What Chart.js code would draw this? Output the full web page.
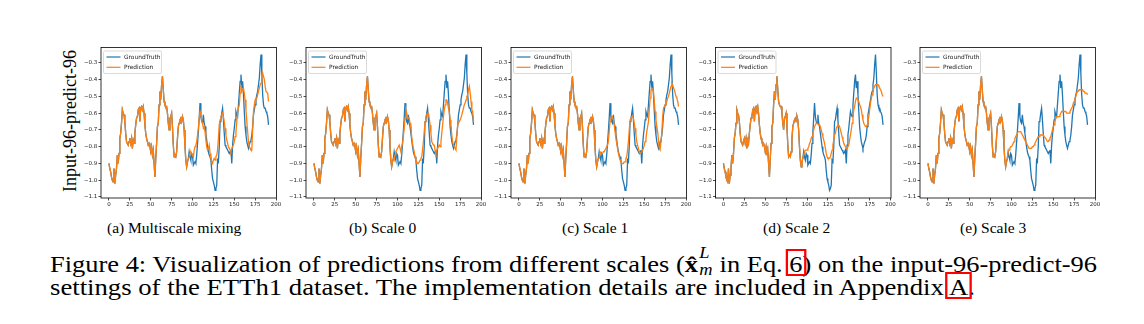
<!DOCTYPE html>
<html>
<head>
<meta charset="utf-8">
<script src="https://cdn.jsdelivr.net/npm/chart.js@4.4.1/dist/chart.umd.min.js"></script>
<style>
  html, body { margin: 0; padding: 0; background: #fff; }
  body { width: 1144px; height: 324px; overflow: hidden; position: relative; font-family: "Liberation Serif", "Times New Roman", serif; color: #000; }
  canvas.panel { position: absolute; }
  .sub { position: absolute; top: 220px; font-size: 15.5px; line-height: 1; white-space: nowrap; }
  .ylab { position: absolute; left: 70px; top: 121px; font-size: 18px; line-height: 1; white-space: nowrap; transform: translate(-50%, -50%) rotate(-90deg); }
  .cap { position: absolute; left: 50px; font-size: 23px; line-height: 1; white-space: nowrap; transform-origin: 0 0; }
  .box { position: relative; }
  .box::after { content: ""; position: absolute; left: -3px; right: -3px; top: -3px; bottom: 1px; border: 2px solid #f00; }
  .ss { display: inline-block; position: relative; width: 13px; height: 23px; }
  .ss i { position: absolute; left: 1px; font-size: 16px; line-height: 1; }
  .ss .sp { top: -4px; }
  .ss .sb { top: 13px; }
</style>
</head>
<body>
<div class="ylab">Input-96-predict-96</div>
<div id="panels"></div>
<div class="cap" id="cap1" style="top:249px">Figure 4: Visualization of predictions from different scales (<b>x&#770;</b><span class="ss"><i class="sp">L</i><i class="sb">m</i></span> in Eq. <span class="box">6</span>) on the input-96-predict-96</div>
<div class="cap" id="cap2" style="top:276px">settings of the ETTh1 dataset. The implementation details are included in Appendix <span class="box">A</span>.</div>

<script>
// Input window shared by all panels (steps 0-95)
const inputWindow = [
  -0.90,-0.93,-0.95,-0.98,-1.00,-1.01,-0.93,-1.02,-0.97,-0.93,
  -0.85,-0.90,-0.84,-0.75,-0.72,-0.66,-0.58,-0.60,-0.61,-0.65,
  -0.72,-0.77,-0.78,-0.79,-0.77,-0.75,-0.78,-0.75,-0.81,-0.76,
  -0.78,-0.72,-0.67,-0.63,-0.62,-0.58,-0.57,-0.65,-0.57,-0.56,
  -0.58,-0.56,-0.60,-0.67,-0.72,-0.75,-0.77,-0.79,-0.78,-0.80,
  -0.83,-0.80,-0.85,-0.82,-0.90,-0.98,-0.87,-0.78,-0.68,-0.66,
  -0.55,-0.47,-0.52,-0.43,-0.38,-0.46,-0.53,-0.55,-0.56,-0.56,
  -0.60,-0.66,-0.70,-0.63,-0.62,-0.60,-0.68,-0.79,-0.86,-0.85,
  -0.86,-0.83,-0.75,-0.68,-0.66,-0.64,-0.63,-0.65,-0.62,-0.64,
  -0.70,-0.80,-0.88,-0.92,-0.89,-0.87
];

// Ground truth over the forecast horizon (steps 96-191)
const groundTruth = [
  -0.83,-0.86,-0.88,-0.84,-0.85,-0.91,-0.90,-0.89,-0.90,-0.85,
  -0.78,-0.71,-0.63,-0.54,-0.62,-0.65,-0.66,-0.61,-0.66,-0.68,
  -0.72,-0.76,-0.80,-0.83,-0.85,-0.86,-0.88,-0.94,-0.99,-1.01,
  -1.03,-1.06,-1.05,-1.03,-0.88,-0.89,-0.80,-0.65,-0.64,-0.60,
  -0.57,-0.64,-0.72,-0.79,-0.80,-0.81,-0.82,-0.83,-0.84,-0.83,
  -0.82,-0.90,-0.79,-0.73,-0.69,-0.64,-0.59,-0.61,-0.62,-0.55,
  -0.48,-0.41,-0.37,-0.45,-0.41,-0.49,-0.59,-0.68,-0.73,-0.77,
  -0.79,-0.81,-0.79,-0.77,-0.76,-0.73,-0.68,-0.61,-0.58,-0.55,
  -0.52,-0.49,-0.47,-0.43,-0.39,-0.31,-0.25,-0.36,-0.49,-0.55,
  -0.57,-0.57,-0.59,-0.60,-0.62,-0.67
];

// Forecasts (steps 96-191) for each variant
const predMultiscale = [
  -0.86,-0.84,-0.83,-0.84,-0.85,-0.86,-0.82,-0.80,-0.79,-0.77,
  -0.73,-0.69,-0.63,-0.59,-0.61,-0.64,-0.66,-0.69,-0.68,-0.71,
  -0.76,-0.80,-0.82,-0.81,-0.79,-0.84,-0.87,-0.89,-0.90,-0.88,
  -0.87,-0.88,-0.86,-0.85,-0.82,-0.75,-0.67,-0.64,-0.62,-0.61,
  -0.60,-0.62,-0.65,-0.69,-0.73,-0.76,-0.78,-0.80,-0.81,-0.82,
  -0.83,-0.81,-0.80,-0.79,-0.77,-0.74,-0.71,-0.65,-0.59,-0.57,
  -0.55,-0.48,-0.43,-0.47,-0.46,-0.45,-0.48,-0.52,-0.58,-0.65,
  -0.71,-0.77,-0.80,-0.81,-0.82,-0.82,-0.70,-0.59,-0.55,-0.52,
  -0.51,-0.51,-0.49,-0.47,-0.45,-0.43,-0.42,-0.39,-0.36,-0.38,
  -0.40,-0.44,-0.47,-0.47,-0.48,-0.53
];
const predScale0 = [
  -0.88,-0.85,-0.83,-0.82,-0.81,-0.80,-0.79,-0.81,-0.83,-0.80,
  -0.78,-0.74,-0.69,-0.63,-0.58,-0.60,-0.62,-0.63,-0.63,-0.66,
  -0.69,-0.74,-0.78,-0.81,-0.83,-0.86,-0.88,-0.89,-0.90,-0.90,
  -0.89,-0.88,-0.87,-0.86,-0.82,-0.77,-0.71,-0.65,-0.62,-0.61,
  -0.60,-0.60,-0.63,-0.67,-0.72,-0.77,-0.78,-0.79,-0.79,-0.82,
  -0.84,-0.82,-0.81,-0.80,-0.79,-0.80,-0.77,-0.72,-0.67,-0.62,
  -0.58,-0.55,-0.52,-0.52,-0.54,-0.57,-0.59,-0.64,-0.68,-0.73,
  -0.77,-0.79,-0.80,-0.81,-0.82,-0.74,-0.67,-0.66,-0.65,-0.64,
  -0.64,-0.61,-0.59,-0.57,-0.55,-0.54,-0.52,-0.50,-0.49,-0.46,
  -0.44,-0.48,-0.53,-0.58,-0.59,-0.65
];
const predScale1 = [
  -0.87,-0.83,-0.84,-0.84,-0.84,-0.83,-0.83,-0.82,-0.82,-0.80,
  -0.79,-0.77,-0.71,-0.65,-0.63,-0.62,-0.62,-0.64,-0.67,-0.71,
  -0.75,-0.78,-0.81,-0.84,-0.86,-0.88,-0.89,-0.90,-0.90,-0.90,
  -0.89,-0.89,-0.87,-0.86,-0.82,-0.77,-0.70,-0.64,-0.63,-0.62,
  -0.62,-0.63,-0.66,-0.69,-0.73,-0.77,-0.79,-0.81,-0.83,-0.84,
  -0.84,-0.83,-0.82,-0.81,-0.79,-0.77,-0.75,-0.71,-0.68,-0.65,
  -0.58,-0.51,-0.47,-0.45,-0.46,-0.47,-0.53,-0.59,-0.64,-0.68,
  -0.71,-0.76,-0.81,-0.82,-0.82,-0.72,-0.62,-0.57,-0.56,-0.55,
  -0.54,-0.53,-0.51,-0.50,-0.48,-0.46,-0.44,-0.42,-0.43,-0.45,
  -0.46,-0.48,-0.50,-0.51,-0.53,-0.56
];
const predScale2 = [
  -0.85,-0.83,-0.82,-0.82,-0.82,-0.81,-0.80,-0.78,-0.77,-0.75,
  -0.74,-0.72,-0.70,-0.68,-0.67,-0.66,-0.66,-0.66,-0.67,-0.67,
  -0.68,-0.70,-0.72,-0.74,-0.76,-0.78,-0.81,-0.84,-0.86,-0.87,
  -0.87,-0.87,-0.86,-0.84,-0.82,-0.79,-0.76,-0.73,-0.72,-0.69,
  -0.68,-0.67,-0.67,-0.68,-0.70,-0.72,-0.74,-0.76,-0.78,-0.79,
  -0.80,-0.81,-0.81,-0.81,-0.79,-0.76,-0.73,-0.70,-0.66,-0.62,
  -0.58,-0.56,-0.53,-0.51,-0.51,-0.51,-0.53,-0.55,-0.56,-0.58,
  -0.61,-0.64,-0.66,-0.67,-0.68,-0.68,-0.67,-0.65,-0.62,-0.58,
  -0.54,-0.51,-0.49,-0.47,-0.45,-0.44,-0.43,-0.43,-0.43,-0.43,
  -0.44,-0.45,-0.46,-0.47,-0.49,-0.50
];
const predScale3 = [
  -0.83,-0.82,-0.81,-0.80,-0.80,-0.79,-0.78,-0.77,-0.75,-0.74,
  -0.73,-0.72,-0.71,-0.71,-0.71,-0.71,-0.72,-0.73,-0.74,-0.75,
  -0.76,-0.77,-0.78,-0.79,-0.80,-0.81,-0.81,-0.81,-0.81,-0.80,
  -0.80,-0.79,-0.78,-0.77,-0.76,-0.75,-0.74,-0.74,-0.73,-0.73,
  -0.73,-0.73,-0.73,-0.74,-0.74,-0.75,-0.76,-0.77,-0.77,-0.76,
  -0.75,-0.74,-0.72,-0.70,-0.68,-0.67,-0.65,-0.63,-0.62,-0.62,
  -0.62,-0.62,-0.61,-0.60,-0.59,-0.59,-0.59,-0.59,-0.59,-0.59,
  -0.60,-0.60,-0.60,-0.60,-0.59,-0.58,-0.57,-0.56,-0.54,-0.53,
  -0.51,-0.50,-0.48,-0.47,-0.47,-0.46,-0.46,-0.46,-0.46,-0.46,
  -0.47,-0.47,-0.48,-0.48,-0.48,-0.49
];

const forecasts = [predMultiscale, predScale0, predScale1, predScale2, predScale3];
const panelTitles = ['(a) Multiscale mixing', '(b) Scale 0', '(c) Scale 1', '(d) Scale 2', '(e) Scale 3'];
const seriesNames = ['GroundTruth', 'Prediction'];
const xTickValues = [0, 25, 50, 75, 100, 125, 150, 175, 200];
const yTickValues = [-1.1, -1.0, -0.9, -0.8, -0.7, -0.6, -0.5, -0.4, -0.3];

// Layout of the five axes boxes (page pixels)
const frameLefts = [101, 306, 511, 715.5, 920];
const frameWidth = 175.5;
const frameTop = 47.5, frameBottom = 198;
const yAxisW = 32, xAxisH = 14;
const titleLefts = [107, 349, 562, 763, 960];
// caption line extents
const captionRights = { cap1: 1097, cap2: 975 };

const BLUE = '#1f77b4', ORANGE = '#ff7f0e';

// full box around the plotting area
const framePlugin = {
  id: 'frame',
  afterDraw(chart) {
    const { ctx, chartArea: a } = chart;
    ctx.save();
    ctx.strokeStyle = '#000';
    ctx.lineWidth = 0.8;
    ctx.strokeRect(a.left, a.top, a.right - a.left, a.bottom - a.top);
    ctx.restore();
  }
};

// legend box in the upper-left corner of the axes
const legendPlugin = {
  id: 'cornerLegend',
  afterDatasetsDraw(chart) {
    const { ctx, chartArea: a } = chart;
    const x = a.left + 2.5, y = a.top + 3.5, w = 58, h = 22.5, r = 1.5;
    ctx.save();
    ctx.beginPath();
    ctx.moveTo(x + r, y);
    ctx.arcTo(x + w, y, x + w, y + h, r);
    ctx.arcTo(x + w, y + h, x, y + h, r);
    ctx.arcTo(x, y + h, x, y, r);
    ctx.arcTo(x, y, x + w, y, r);
    ctx.closePath();
    ctx.fillStyle = 'rgba(255,255,255,0.8)';
    ctx.fill();
    ctx.strokeStyle = '#d0d0d0';
    ctx.lineWidth = 0.8;
    ctx.stroke();
    const rows = [y + 6, y + 16.3];
    chart.data.datasets.forEach(ds => {
      const ry = rows[ds.legendRow];
      ctx.strokeStyle = ds.borderColor;
      ctx.lineWidth = 1.2;
      ctx.beginPath();
      ctx.moveTo(x + 3, ry);
      ctx.lineTo(x + 17, ry);
      ctx.stroke();
      ctx.fillStyle = '#222';
      ctx.font = '5.9px "DejaVu Sans"';
      ctx.textBaseline = 'middle';
      ctx.fillText(ds.label, x + 20.5, ry + 0.3);
    });
    ctx.restore();
  }
};

const fmtY = v => v.toFixed(1).replace('-', '\u2212');

function buildPanel(k) {
  const cv = document.createElement('canvas');
  cv.className = 'panel';
  const left = Math.floor(frameLefts[k]) - yAxisW;
  const padLeft = frameLefts[k] - Math.floor(frameLefts[k]);
  const W = 222, H = Math.round(frameBottom - 40 + xAxisH);
  cv.width = W; cv.height = H;
  cv.style.left = left + 'px';
  cv.style.top = '40px';
  cv.style.width = W + 'px';
  cv.style.height = H + 'px';
  document.getElementById('panels').appendChild(cv);

  const truthSeries = inputWindow.concat(groundTruth);
  const predSeries = inputWindow.concat(forecasts[k]);
  const toPts = arr => arr.map((v, i) => ({ x: i, y: v }));

  const tickFont = { family: 'DejaVu Sans', size: 5.5 };
  new Chart(cv, {
    type: 'line',
    data: {
      datasets: [
        { label: seriesNames[0], legendRow: 0, data: toPts(truthSeries), borderColor: BLUE, borderWidth: 1.3, pointRadius: 0, tension: 0, order: 2 },
        { label: seriesNames[1], legendRow: 1, data: toPts(predSeries), borderColor: ORANGE, borderWidth: 1.3, pointRadius: 0, tension: 0, order: 1 }
      ]
    },
    options: {
      responsive: false,
      animation: false,
      devicePixelRatio: 1,
      events: [],
      layout: { padding: { top: frameTop - 40, left: padLeft, right: W - yAxisW - padLeft - frameWidth, bottom: 0 } },
      plugins: { legend: { display: false }, tooltip: { enabled: false } },
      scales: {
        x: {
          type: 'linear', min: -9.55, max: 200.55,
          afterBuildTicks: s => { s.ticks = xTickValues.map(v => ({ value: v })); },
          afterFit: s => { s.height = xAxisH; },
          border: { display: false },
          grid: { drawOnChartArea: false, drawTicks: true, tickLength: 2.5, color: '#000', lineWidth: 0.7 },
          ticks: { font: tickFont, color: '#222', padding: 1.2, maxRotation: 0, autoSkip: false, callback: v => String(v) }
        },
        y: {
          type: 'linear', min: -1.106, max: -0.208,
          afterBuildTicks: s => { s.ticks = yTickValues.map(v => ({ value: v })); },
          afterFit: s => { s.width = yAxisW; },
          border: { display: false },
          grid: { drawOnChartArea: false, drawTicks: true, tickLength: 2.5, color: '#000', lineWidth: 0.7 },
          ticks: { font: tickFont, color: '#222', padding: 1.2, autoSkip: false, callback: v => fmtY(v) }
        }
      }
    },
    plugins: [legendPlugin, framePlugin]
  });

  const t = document.createElement('div');
  t.className = 'sub';
  t.style.left = titleLefts[k] + 'px';
  t.textContent = panelTitles[k];
  document.body.appendChild(t);
}

for (let k = 0; k < 5; k++) buildPanel(k);

// stretch each caption line across its measured extent
function fitCaptions() {
  Object.keys(captionRights).forEach(id => {
    const el = document.getElementById(id);
    el.style.transform = 'none';
    const w = el.getBoundingClientRect().width;
    el.style.transform = 'scaleX(' + ((captionRights[id] - 50) / w) + ')';
  });
}
fitCaptions();
if (document.fonts && document.fonts.ready) document.fonts.ready.then(fitCaptions);
</script>
</body>
</html>
